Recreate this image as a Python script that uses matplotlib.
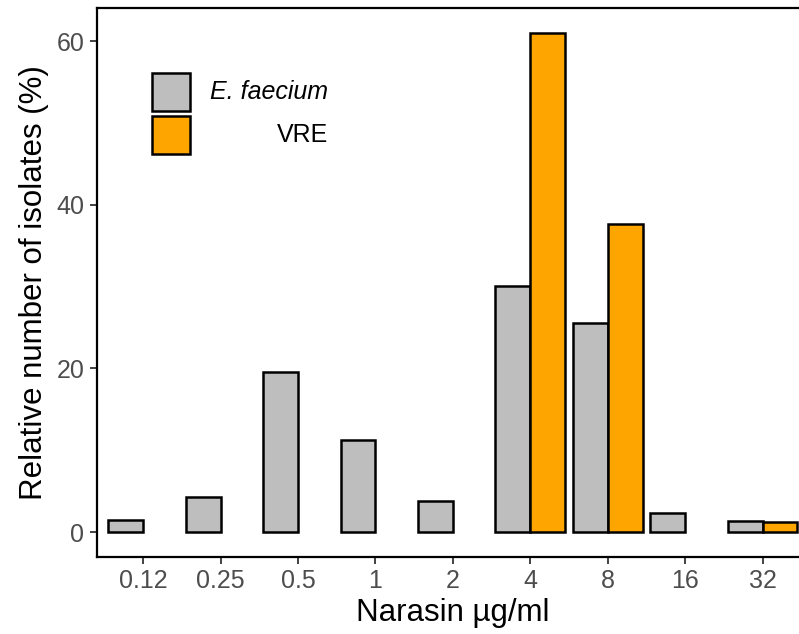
import matplotlib
matplotlib.use("Agg")
import matplotlib.pyplot as plt
from matplotlib.patches import Rectangle
import numpy as np

plt.rcParams['font.family'] = ['Liberation Sans', 'DejaVu Sans']

categories = ["0.12", "0.25", "0.5", "1", "2", "4", "8", "16", "32"]
efaecium = [1.5, 4.3, 19.5, 11.3, 3.8, 30.1, 25.6, 2.3, 1.4]
vre_categories = ["4", "8", "32"]
vre = [61.0, 37.7, 1.2]

W, H = 799, 634
fig = plt.figure(figsize=(W / 100, H / 100), dpi=100)
ax = fig.add_axes([96.7 / W, (H - 557) / H, (809 - 96.7) / W, (557 - 8) / H])

x = np.arange(len(categories))
bw = 0.45
ax.bar(x - bw / 2, efaecium, width=bw, color="#BEBEBE", edgecolor="black",
       linewidth=1.8, zorder=2)
xv = np.array([categories.index(c) for c in vre_categories])
ax.bar(xv + bw / 2, vre, width=bw, color="#FFA500", edgecolor="black",
       linewidth=1.8, zorder=2)

ax.set_xlim(-0.6, len(categories) - 0.4)
ax.set_ylim(-3.05, 64.05)
ax.set_xticks(x)
ax.set_xticklabels(categories)
ax.set_yticks([0, 20, 40, 60])

for s in ax.spines.values():
    s.set_linewidth(1.6)
    s.set_color("black")
ax.tick_params(axis="both", length=5, width=1.3, color="#333333",
               labelsize=18, labelcolor="#4D4D4D", pad=4)

ax.set_xlabel("Narasin µg/ml", fontsize=22.5, color="black", labelpad=3)
ax.set_ylabel("Relative number of isolates (%)", fontsize=22.5, color="black",
              labelpad=5)

# legend drawn manually (keys + right-aligned labels), figure pixel coords
def fx(px):
    return px / W

def fy(py):
    return (H - py) / H

fig.add_artist(Rectangle((fx(152), fy(111)), fx(190) - fx(152), fy(73) - fy(111),
                         transform=fig.transFigure, facecolor="#BEBEBE",
                         edgecolor="black", linewidth=1.8))
fig.add_artist(Rectangle((fx(152), fy(154)), fx(190) - fx(152), fy(116) - fy(154),
                         transform=fig.transFigure, facecolor="#FFA500",
                         edgecolor="black", linewidth=1.8))
fig.text(fx(328), fy(92), "E. faecium", style="italic", fontsize=18,
         ha="right", va="center")
fig.text(fx(328), fy(135), "VRE", fontsize=18, ha="right", va="center")

fig.savefig("out.png", dpi=100)
